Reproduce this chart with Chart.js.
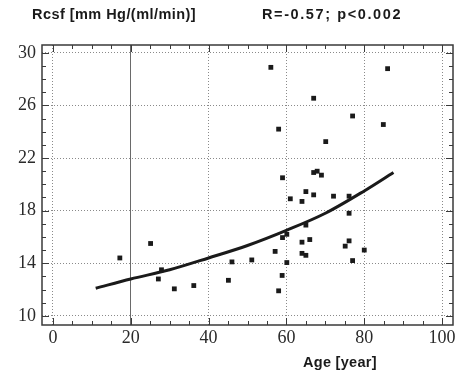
<!DOCTYPE html>
<html lang='en'>
<head>
  <meta charset='UTF-8'>
  <title>Rcsf vs Age</title>
  <style>
    * { box-sizing: border-box; }
    body { margin: 0; background: #ffffff; }
    #wrap { width: 460px; height: 375px; }
  </style>
  <script src="https://cdn.jsdelivr.net/npm/chart.js"></script>
</head>
<body>
  <div id='wrap'><canvas id='chart' width='460' height='375'></canvas></div>
  <script>
    // measured points: age [year] and Rcsf [mm Hg/(ml/min)]
    const ageValues = [17.2, 25.1, 27.9, 27.1, 31.2, 36.2, 45.1, 46.0, 51.1, 56.0,
                       58.0, 59.0, 61.0, 60.1, 59.0, 57.1, 60.1, 58.9, 58.0, 64.0,
                       65.0, 67.0, 65.0, 64.0, 66.0, 64.0, 65.0, 67.0, 67.0, 67.9,
                       69.0, 70.1, 72.1, 76.1, 76.1, 76.1, 75.1, 80.0, 77.0, 77.0,
                       84.9, 86.0];
    const rcsfValues = [14.4, 15.5, 13.5, 12.8, 12.05, 12.3, 12.7, 14.1, 14.25, 28.9,
                        24.2, 20.5, 18.9, 16.2, 15.95, 14.9, 14.05, 13.07, 11.9, 18.7,
                        19.45, 19.2, 16.9, 15.6, 15.8, 14.75, 14.6, 26.55, 20.9, 21.0,
                        20.7, 23.25, 19.1, 19.1, 17.8, 15.7, 15.3, 15.0, 14.2, 25.2,
                        24.55, 28.8];
    // fitted curve
    const fitAge  = [11, 20, 30, 40, 50, 60, 70, 80, 87.5];
    const fitRcsf = [12.1, 12.8, 13.5, 14.4, 15.35, 16.5, 17.8, 19.5, 20.9];

    const xTicks = [0, 20, 40, 60, 80, 100];
    const yTicks = [10, 14, 18, 22, 26, 30];
    const xMinorStep = 5, yMinorStep = 1;

    const yTitle = 'Rcsf [mm Hg/(ml/min)]';
    const statText = 'R=-0.57; p<0.002';
    const xTitle = 'Age [year]';

    const scatterData = ageValues.map((a, i) => ({ x: a, y: rcsfValues[i] }));
    const fitData = fitAge.map((a, i) => ({ x: a, y: fitRcsf[i] }));

    const tickFont = { family: "'Liberation Serif', 'Times New Roman', serif", size: 18 };

    function caption(ctx, text, x, y, spacing) {
      ctx.letterSpacing = spacing + 'px';
      ctx.fillText(text, x, y);
      ctx.letterSpacing = '0px';
    }

    // frame, minor ticks and the bold captions
    const framePlugin = {
      id: 'frame',
      afterDraw(chart) {
        const { ctx, chartArea: a, scales: { x, y } } = chart;
        ctx.save();
        ctx.strokeStyle = '#3a3a3a';
        ctx.lineWidth = 1.5;
        ctx.strokeRect(a.left, a.top, a.right - a.left, a.bottom - a.top);

        ctx.lineWidth = 1;
        ctx.beginPath();
        for (let v = 10; v <= 30; v += yMinorStep) {
          const py = Math.round(y.getPixelForValue(v)) + 0.5;
          const len = yTicks.includes(v) ? 7 : 4;
          ctx.moveTo(a.left, py); ctx.lineTo(a.left + len, py);
          ctx.moveTo(a.right, py); ctx.lineTo(a.right - len, py);
        }
        for (let v = 0; v <= 100; v += xMinorStep) {
          const px = Math.round(x.getPixelForValue(v)) + 0.5;
          const len = xTicks.includes(v) ? 7 : 4;
          ctx.moveTo(px, a.bottom); ctx.lineTo(px, a.bottom - len);
          ctx.moveTo(px, a.top); ctx.lineTo(px, a.top + len);
        }
        ctx.stroke();

        ctx.fillStyle = '#1a1a1a';
        ctx.font = "bold 14.5px 'Liberation Sans', Arial, sans-serif";
        ctx.textBaseline = 'middle';
        ctx.textAlign = 'left';
        caption(ctx, yTitle, 32, 15, 0.45);
        caption(ctx, statText, 262, 15, 1.6);
        caption(ctx, xTitle, 303, 363, 0.3);
        ctx.restore();
      }
    };

    new Chart(document.getElementById('chart'), {
      type: 'scatter',
      data: {
        datasets: [
          {
            label: 'Rcsf',
            data: scatterData,
            pointStyle: 'rect',
            pointRadius: 3.4,
            pointBorderWidth: 0,
            backgroundColor: '#1a1a1a',
            borderColor: '#1a1a1a'
          },
          {
            label: 'fit',
            type: 'line',
            data: fitData,
            showLine: true,
            pointRadius: 0,
            borderWidth: 3,
            borderColor: '#1a1a1a',
            tension: 0.4,
            cubicInterpolationMode: 'monotone',
            fill: false
          }
        ]
      },
      options: {
        responsive: false,
        animation: false,
        devicePixelRatio: 1,
        layout: { padding: { top: 45, right: 7, left: 0, bottom: 0 } },
        plugins: { legend: { display: false }, tooltip: { enabled: false } },
        scales: {
          x: {
            type: 'linear',
            min: -2.8,
            max: 102.8,
            afterBuildTicks: s => { s.ticks = xTicks.map(v => ({ value: v })); },
            afterFit: s => { s.height = 50; },
            grid: {
              drawTicks: false,
              color: c => (c.tick && c.tick.value === 20) ? '#6a6a6a' : '#8a8a8a',
              lineWidth: 1
            },
            border: {
              display: false,
              dash: c => (c.tick && c.tick.value === 20) ? [] : [1, 2]
            },
            ticks: { font: tickFont, color: '#2a2a2a', padding: 2, maxRotation: 0 }
          },
          y: {
            min: 9.3,
            max: 30.6,
            afterBuildTicks: s => { s.ticks = yTicks.map(v => ({ value: v })); },
            afterFit: s => { s.width = 42; },
            grid: { drawTicks: false, color: '#8a8a8a', lineWidth: 1 },
            border: { display: false, dash: [1, 2] },
            ticks: { font: tickFont, color: '#2a2a2a', padding: 6 }
          }
        }
      },
      plugins: [framePlugin]
    });
  </script>
</body>
</html>
